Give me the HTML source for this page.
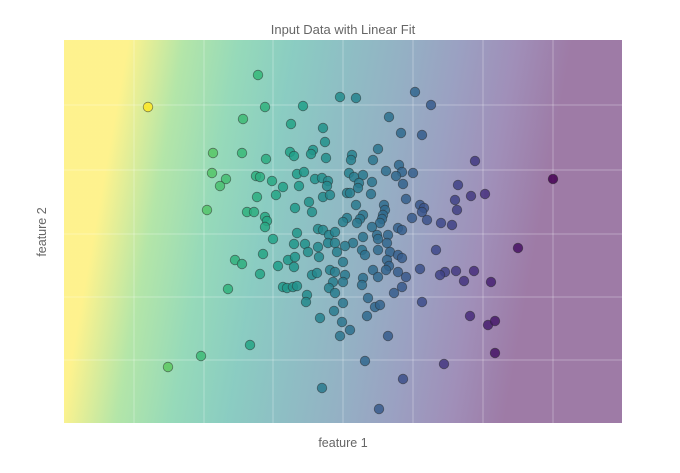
<!DOCTYPE html>
<html><head><meta charset="utf-8"><style>
html,body{margin:0;padding:0;background:#fff;}
svg{display:block;font-family:"Liberation Sans",sans-serif;}
</style></head><body>
<svg id="chart" width="680" height="473" viewBox="0 0 680 473">
<defs>
<linearGradient id="bg" gradientUnits="userSpaceOnUse" x1="60" y1="423" x2="490" y2="500">
<stop offset="0" stop-color="#fde725"/><stop offset="0.125" stop-color="#6ece58"/><stop offset="0.25" stop-color="#35b779"/><stop offset="0.375" stop-color="#1f9e89"/><stop offset="0.5" stop-color="#26828e"/><stop offset="0.625" stop-color="#31688e"/><stop offset="0.75" stop-color="#3e4989"/><stop offset="0.875" stop-color="#482878"/><stop offset="1" stop-color="#440154"/>
</linearGradient>
<clipPath id="clip"><rect x="64" y="40" width="558" height="383"/></clipPath>
</defs>
<rect x="64" y="40" width="558" height="383" fill="#fff"/>
<rect x="64" y="40" width="558" height="383" fill="url(#bg)" opacity="0.52"/>
<g id="grid"></g>
<g id="pts" clip-path="url(#clip)"></g>
<text x="343" y="34" text-anchor="middle" font-size="13" fill="#666">Input Data with Linear Fit</text>
<text x="343" y="447" text-anchor="middle" font-size="12.5" fill="#666">feature 1</text>
<text x="46" y="232" text-anchor="middle" font-size="12.5" fill="#666" transform="rotate(-90 46 232)">feature 2</text>
</svg>
<script>
const xs=[8.4,19.4,20.1,17.9,23.9,27.6,29.2,35.1,36.7,32.5,33.7,35.8,22.7,25.9,26.1,14.9,17.8,20.2,22.6,23.0,24.9,24.7,26.2,14.8,16.2,15.6,19.2,19.6,20.8,21.9,23.3,24.0,23.5,25.1,25.8,26.4,26.3,31.4,28.8,28.7,30.9,28.5,29.0,29.9,29.5,30.8,32.2,33.5,33.8,33.2,34.9,33.9,29.4,41.1,48.9,39.4,42.1,40.7,39.1,39.3,19.3,21.2,14.3,18.3,19.0,20.1,20.3,20.1,23.1,24.5,24.8,25.9,23.3,20.9,23.0,24.1,24.4,25.4,25.5,19.9,22.4,23.1,23.0,21.4,17.1,17.8,19.6,16.4,21.9,22.3,22.9,23.3,24.3,24.2,25.4,25.9,26.5,27.1,26.4,27.1,27.3,24.8,25.3,26.6,27.1,26.9,26.5,27.1,26.6,28.3,28.6,30.7,34.2,35.6,36.0,35.8,36.3,34.8,37.7,38.8,29.2,32.0,32.1,31.9,31.8,31.6,29.9,29.6,29.3,28.3,27.9,30.8,33.4,33.8,29.9,31.3,31.4,32.4,32.3,28.9,28.1,29.8,30.1,31.4,32.6,33.4,33.8,32.3,32.5,27.9,37.2,45.4,35.6,38.1,37.6,39.2,40.0,41.0,42.7,30.9,32.2,33.4,31.4,34.2,28.1,27.9,29.9,29.8,33.8,33.0,30.4,31.1,31.6,35.8,27.9,30.3,27.0,27.8,28.6,27.6,32.4,25.6,18.6,13.7,10.4,40.6,42.4,43.1,43.1,38.0,33.9,30.1,25.8,31.5];
const ys=[31.6,34.8,31.6,30.4,31.7,32.6,32.5,33.1,31.8,30.6,29.0,28.8,29.9,29.5,28.1,27.0,27.0,26.4,27.1,26.7,27.3,26.9,26.5,25.0,24.4,23.7,24.7,24.6,24.2,23.6,24.9,25.1,23.7,24.4,24.5,24.2,23.7,27.4,26.8,26.3,26.3,25.0,24.6,24.8,24.0,24.1,25.2,25.8,25.1,24.7,25.0,23.9,23.5,26.2,24.4,23.8,22.9,22.7,22.3,21.3,22.6,22.8,21.3,21.1,21.1,20.6,20.2,19.6,21.5,22.1,21.1,22.6,19.0,18.4,17.9,17.9,17.1,17.6,16.6,16.9,16.3,16.6,15.6,15.7,16.3,15.9,14.9,13.4,13.6,13.5,13.6,13.7,12.8,12.1,19.4,19.3,18.8,19.1,18.0,18.0,17.1,14.8,15.0,15.3,15.1,14.1,13.5,13.0,22.8,23.0,23.0,22.9,22.4,21.8,21.5,21.1,20.3,20.5,20.0,19.8,21.8,21.8,21.3,20.8,20.4,20.0,20.8,20.4,20.0,20.5,20.1,19.6,19.5,19.3,18.6,18.8,18.4,18.8,18.0,18.0,17.7,17.3,16.8,17.3,17.1,16.8,16.5,16.3,15.7,16.1,17.3,17.5,15.4,15.1,14.8,15.2,14.2,15.2,14.1,15.3,15.3,15.1,14.6,14.6,14.8,14.1,14.5,13.8,13.6,13.0,12.5,11.6,11.8,12.1,12.0,10.7,11.2,10.1,9.3,8.7,8.7,10.5,7.8,6.7,5.6,10.7,9.8,10.2,7.0,5.9,4.4,6.2,3.5,1.4];
const xTicks=[7,14,20.9,27.9,34.9,41.9,48.9];
const yTicks=[6.3,12.6,18.9,25.3,31.8];
const X0=64,X1=622,Y0=423,Y1=40,xMax=55.8,yMax=38.3;
function xS(v){return X0+v/xMax*(X1-X0);}
function yS(v){return Y0-v/yMax*(Y0-Y1);}
const NS="http://www.w3.org/2000/svg";
const vir=[[68,1,84],[72,40,120],[62,73,137],[49,104,142],[38,130,142],[31,158,137],[53,183,121],[110,206,88],[253,231,37]];
function viridis(t){t=Math.max(0,Math.min(1,t));const f=t*8,i=Math.min(7,Math.floor(f)),r=f-i;const a=vir[i],b=vir[i+1];return 'rgb('+a.map((c,k)=>Math.round(c+(b[k]-c)*r)).join(',')+')';}
const grid=document.getElementById('grid');
xTicks.forEach(t=>{const l=document.createElementNS(NS,'line');


const x=xS(t);l.setAttribute('x1',x);l.setAttribute('x2',x);l.setAttribute('y1',Y1);l.setAttribute('y2',Y0);l.setAttribute('stroke','rgba(255,255,255,0.3)');l.setAttribute('stroke-width','1');grid.appendChild(l);});
yTicks.forEach(t=>{const l=document.createElementNS(NS,'line');


const y=yS(t);l.setAttribute('y1',y);l.setAttribute('y2',y);l.setAttribute('x1',X0);l.setAttribute('x2',X1);l.setAttribute('stroke','rgba(255,255,255,0.3)');l.setAttribute('stroke-width','1');grid.appendChild(l);});
const pts=document.getElementById('pts');
xs.forEach((xv,i)=>{const px=xS(xv),py=yS(ys[i]);const s=px-0.18*(423-py);const t=(509-s)/418;
const c=document.createElementNS(NS,'circle');


c.setAttribute('cx',px);c.setAttribute('cy',py);c.setAttribute('r','4.8');c.setAttribute('fill',viridis(t));c.setAttribute('fill-opacity','0.85');c.setAttribute('stroke','rgba(40,40,40,0.55)');c.setAttribute('stroke-width','0.8');pts.appendChild(c);});
</script>
</body></html>
